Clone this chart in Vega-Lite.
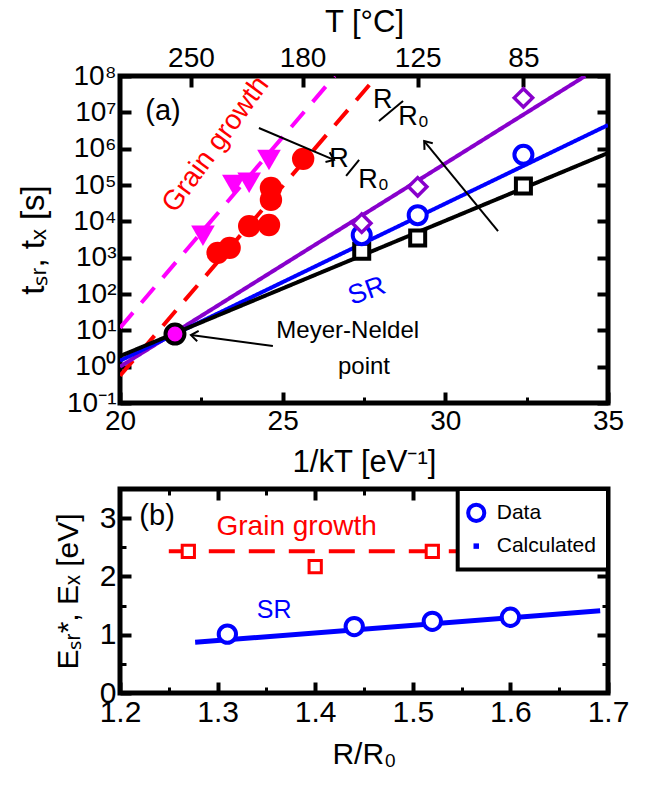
{
  "$schema": "https://vega.github.io/schema/vega-lite/v6.json",
  "background": "white",
  "padding": {"left": 15, "top": 3, "right": 5, "bottom": 5},
  "config": {
    "font": "Liberation Sans",
    "view": {"stroke": "black", "strokeWidth": 5},
    "axis": {
      "domain": false, "grid": false,
      "tickColor": "black", "tickWidth": 4, "tickSize": -11,
      "labelColor": "black", "titleColor": "black",
      "labelFont": "Liberation Sans", "titleFont": "Liberation Sans",
      "labelFontSize": 28, "titleFontSize": 31, "titleFontWeight": "normal",
      "labelPadding": 15, "labelFlush": false, "labelOverlap": false
    },
    "concat": {"spacing": 4}
  },
  "datasets": {
    "fits_a": [
      {"series": "grain_tri", "x": 20, "t": 11.7}, {"series": "grain_tri", "x": 26.6, "t": 100000000},
      {"series": "grain_circ", "x": 20, "t": 0.56}, {"series": "grain_circ", "x": 27.9, "t": 100000000},
      {"series": "sr_diamond", "x": 20, "t": 1.0}, {"series": "sr_diamond", "x": 34.3, "t": 100000000},
      {"series": "sr_circle", "x": 20, "t": 1.46}, {"series": "sr_circle", "x": 35, "t": 4470000},
      {"series": "sr_square", "x": 20, "t": 1.95}, {"series": "sr_square", "x": 35, "t": 760000}
    ],
    "sq_a": [{"x": 27.43, "t": 1510}, {"x": 29.15, "t": 3470}, {"x": 32.40, "t": 93300}],
    "circ_a": [{"x": 27.43, "t": 4170}, {"x": 29.15, "t": 14800}, {"x": 32.40, "t": 676000}],
    "dia_a": [{"x": 27.43, "t": 8900}, {"x": 29.15, "t": 89000}, {"x": 32.40, "t": 25000000}],
    "gg_circ_a": [
      {"x": 25.63, "t": 525000}, {"x": 24.64, "t": 83000}, {"x": 24.64, "t": 38900},
      {"x": 24.58, "t": 7940}, {"x": 23.97, "t": 7410}, {"x": 23.37, "t": 1860}, {"x": 23.0, "t": 1350}
    ],
    "gg_tri_a": [{"x": 24.58, "t": 490000}, {"x": 23.97, "t": 115000}, {"x": 23.5, "t": 100000}, {"x": 22.55, "t": 3980}],
    "mn_a": [{"x": 21.69, "t": 7.9}],
    "arrows_a": [
      {"arrow": "grain", "x": 24.27, "t": 3700000, "x2": 26.58, "t2": 490000},
      {"arrow": "sr", "x": 31.62, "t": 5370, "x2": 29.35, "t2": 1620000},
      {"arrow": "mn", "x": 24.7, "t": 3.7, "x2": 22.18, "t2": 7.4}
    ],
    "slashes_a": [
      {"x": 26.95, "t": 178000, "x2": 27.35, "t2": 490000},
      {"x": 27.96, "t": 5750000, "x2": 28.70, "t2": 20400000}
    ],
    "r_top_a": [{"x": 26.73, "t": 520000, "label": "R"}, {"x": 28.08, "t": 21900000, "label": "R"}],
    "r_bot_a": [{"x": 27.32, "t": 138000, "label": "R₀"}, {"x": 28.55, "t": 7400000, "label": "R₀"}],
    "panel_a": [{"x": 21.32, "t": 11000000, "label": "(a)"}],
    "gg_label_a": [{"x": 22.95, "t": 1300000, "label": "Grain growth"}],
    "sr_label_a": [{"x": 27.59, "t": 120, "label": "SR"}],
    "mn_label_a": [{"x": 27.0, "t": 9.5, "label": "Meyer-Neldel"}, {"x": 27.5, "t": 1.0, "label": "point"}],
    "sr_fit_b": [{"r": 1.277, "e": 0.87}, {"r": 1.692, "e": 1.41}],
    "gg_fit_b": [{"r": 1.25, "e": 2.43}, {"r": 1.55, "e": 2.43}],
    "sr_b": [{"r": 1.31, "e": 1.01}, {"r": 1.44, "e": 1.14}, {"r": 1.52, "e": 1.23}, {"r": 1.60, "e": 1.30}],
    "gg_b": [{"r": 1.27, "e": 2.43}, {"r": 1.40, "e": 2.17}, {"r": 1.52, "e": 2.43}],
    "legend_box_b": [{"r": 1.546, "e": 2.12, "r2": 1.7, "e2": 3.5}],
    "legend_data_b": [{"r": 1.565, "e": 3.09}],
    "legend_calc_b": [{"r": 1.565, "e": 2.52}],
    "legend_text_b": [{"r": 1.586, "e": 3.09, "label": "Data"}, {"r": 1.586, "e": 2.52, "label": "Calculated"}],
    "panel_b": [{"r": 1.238, "e": 3.03, "label": "(b)"}],
    "gg_label_b": [{"r": 1.381, "e": 2.85, "label": "Grain growth"}],
    "sr_label_b": [{"r": 1.358, "e": 1.42, "label": "SR"}]
  },
  "vconcat": [
    {
      "width": 488,
      "height": 327,
      "resolve": {"axis": {"x": "independent", "y": "independent"}},
      "layer": [
        {
          "data": {"name": "fits_a"},
          "mark": {"type": "line", "clip": true},
          "encoding": {
            "x": {"field": "x", "type": "quantitative", "scale": {"domain": [20, 35], "nice": false, "zero": false},
                  "axis": {"orient": "bottom", "values": [20, 25, 30, 35], "title": "1/kT [eV⁻¹]", "titlePadding": 12}},
            "y": {"field": "t", "type": "quantitative", "scale": {"type": "log", "domain": [0.1, 100000000], "nice": false},
                  "axis": {"orient": "left", "values": [0.1, 1, 10, 100, 1000, 10000, 100000, 1000000, 10000000, 100000000],
                           "labelExpr": "'10' + ['⁻¹','⁰','¹','²','³','⁴','⁵','⁶','⁷','⁸'][round(log(datum.value)/LN10) + 1]",
                           "title": "tₛᵣ, tₓ [s]", "titlePadding": 16, "titleFontSize": 33}},
            "color": {"field": "series", "type": "nominal", "legend": null,
                      "scale": {"domain": ["grain_tri", "grain_circ", "sr_diamond", "sr_circle", "sr_square"],
                                "range": ["#ff00ff", "#ff0000", "#8800cc", "#0000ff", "#000000"]}},
            "strokeDash": {"field": "series", "type": "nominal", "legend": null,
                           "scale": {"domain": ["grain_tri", "grain_circ", "sr_diamond", "sr_circle", "sr_square"],
                                     "range": [[20, 13], [20, 13], [1, 0], [1, 0], [1, 0]]}},
            "strokeWidth": {"field": "series", "type": "nominal", "legend": null,
                            "scale": {"domain": ["grain_tri", "grain_circ", "sr_diamond", "sr_circle", "sr_square"],
                                      "range": [4, 4, 3, 4, 4]}}
          }
        },
        {
          "data": {"name": "sq_a"},
          "mark": {"type": "point", "shape": "square", "filled": true, "fill": "white", "stroke": "black", "strokeWidth": 4, "size": 225, "opacity": 1},
          "encoding": {
            "x": {"field": "x", "type": "quantitative",
                  "axis": {"orient": "bottom", "values": [22.5, 27.5, 32.5], "labels": false, "title": null, "tickSize": -6, "tickWidth": 3}},
            "y": {"field": "t", "type": "quantitative",
                  "axis": {"orient": "right", "values": [0.1, 1, 10, 100, 1000, 10000, 100000, 1000000, 10000000, 100000000], "labels": false, "title": null}}
          }
        },
        {
          "data": {"name": "circ_a"},
          "mark": {"type": "point", "shape": "circle", "filled": true, "fill": "white", "stroke": "#0000ff", "strokeWidth": 4, "size": 324, "opacity": 1},
          "encoding": {
            "x": {"field": "x", "type": "quantitative",
                  "axis": {"orient": "top", "values": [22.18, 25.61, 29.15, 32.40],
                           "labelExpr": "datum.value < 23 ? '250' : datum.value < 27 ? '180' : datum.value < 30 ? '125' : '85'",
                           "title": "T [°C]", "titlePadding": 6}},
            "y": {"field": "t", "type": "quantitative", "axis": null}
          }
        },
        {
          "data": {"name": "dia_a"},
          "mark": {"type": "point", "shape": "diamond", "filled": true, "fill": "white", "stroke": "#8800cc", "strokeWidth": 3.5, "size": 340, "opacity": 1},
          "encoding": {
            "x": {"field": "x", "type": "quantitative", "axis": null},
            "y": {"field": "t", "type": "quantitative", "axis": null}
          }
        },
        {
          "data": {"name": "gg_circ_a"},
          "mark": {"type": "point", "shape": "circle", "filled": true, "color": "#ff0000", "size": 500, "opacity": 1},
          "encoding": {
            "x": {"field": "x", "type": "quantitative", "axis": null},
            "y": {"field": "t", "type": "quantitative", "axis": null}
          }
        },
        {
          "data": {"name": "gg_tri_a"},
          "mark": {"type": "point", "shape": "triangle-down", "filled": true, "color": "#ff00ff", "size": 560, "opacity": 1},
          "encoding": {
            "x": {"field": "x", "type": "quantitative", "axis": null},
            "y": {"field": "t", "type": "quantitative", "axis": null}
          }
        },
        {
          "data": {"name": "mn_a"},
          "mark": {"type": "point", "shape": "circle", "filled": true, "fill": "#ff00ff", "stroke": "black", "strokeWidth": 4, "size": 360, "opacity": 1},
          "encoding": {
            "x": {"field": "x", "type": "quantitative", "axis": null},
            "y": {"field": "t", "type": "quantitative", "axis": null}
          }
        },
        {
          "data": {"name": "arrows_a"},
          "mark": {"type": "rule", "color": "black", "strokeWidth": 2},
          "encoding": {
            "x": {"field": "x", "type": "quantitative", "axis": null},
            "y": {"field": "t", "type": "quantitative", "axis": null},
            "x2": {"field": "x2"},
            "y2": {"field": "t2"}
          }
        },
        {
          "data": {"name": "arrows_a"},
          "transform": [{"filter": "datum.arrow == 'grain'"}],
          "mark": {"type": "point", "shape": "M-1,-0.75L0,0L-1,0.75", "filled": false, "stroke": "black", "strokeWidth": 2, "size": 200, "angle": 23, "opacity": 1},
          "encoding": {
            "x": {"field": "x2", "type": "quantitative", "axis": null},
            "y": {"field": "t2", "type": "quantitative", "axis": null}
          }
        },
        {
          "data": {"name": "arrows_a"},
          "transform": [{"filter": "datum.arrow == 'sr'"}],
          "mark": {"type": "point", "shape": "M-1,-0.75L0,0L-1,0.75", "filled": false, "stroke": "black", "strokeWidth": 2, "size": 200, "angle": -129, "opacity": 1},
          "encoding": {
            "x": {"field": "x2", "type": "quantitative", "axis": null},
            "y": {"field": "t2", "type": "quantitative", "axis": null}
          }
        },
        {
          "data": {"name": "arrows_a"},
          "transform": [{"filter": "datum.arrow == 'mn'"}],
          "mark": {"type": "point", "shape": "M-1,-0.75L0,0L-1,0.75", "filled": false, "stroke": "black", "strokeWidth": 2, "size": 200, "angle": 188, "opacity": 1},
          "encoding": {
            "x": {"field": "x2", "type": "quantitative", "axis": null},
            "y": {"field": "t2", "type": "quantitative", "axis": null}
          }
        },
        {
          "data": {"name": "slashes_a"},
          "mark": {"type": "rule", "color": "black", "strokeWidth": 2},
          "encoding": {
            "x": {"field": "x", "type": "quantitative", "axis": null},
            "y": {"field": "t", "type": "quantitative", "axis": null},
            "x2": {"field": "x2"},
            "y2": {"field": "t2"}
          }
        },
        {
          "data": {"name": "r_top_a"},
          "mark": {"type": "text", "fontSize": 27, "color": "black", "align": "center", "baseline": "middle"},
          "encoding": {
            "x": {"field": "x", "type": "quantitative", "axis": null},
            "y": {"field": "t", "type": "quantitative", "axis": null},
            "text": {"field": "label"}
          }
        },
        {
          "data": {"name": "r_bot_a"},
          "mark": {"type": "text", "fontSize": 27, "color": "black", "align": "left", "baseline": "middle"},
          "encoding": {
            "x": {"field": "x", "type": "quantitative", "axis": null},
            "y": {"field": "t", "type": "quantitative", "axis": null},
            "text": {"field": "label"}
          }
        },
        {
          "data": {"name": "panel_a"},
          "mark": {"type": "text", "fontSize": 29, "color": "black", "align": "center", "baseline": "middle"},
          "encoding": {
            "x": {"field": "x", "type": "quantitative", "axis": null},
            "y": {"field": "t", "type": "quantitative", "axis": null},
            "text": {"field": "label"}
          }
        },
        {
          "data": {"name": "gg_label_a"},
          "mark": {"type": "text", "fontSize": 28, "color": "#ff0000", "align": "center", "baseline": "middle", "angle": -54},
          "encoding": {
            "x": {"field": "x", "type": "quantitative", "axis": null},
            "y": {"field": "t", "type": "quantitative", "axis": null},
            "text": {"field": "label"}
          }
        },
        {
          "data": {"name": "sr_label_a"},
          "mark": {"type": "text", "fontSize": 27, "color": "#0000ff", "align": "center", "baseline": "middle", "angle": -20},
          "encoding": {
            "x": {"field": "x", "type": "quantitative", "axis": null},
            "y": {"field": "t", "type": "quantitative", "axis": null},
            "text": {"field": "label"}
          }
        },
        {
          "data": {"name": "mn_label_a"},
          "mark": {"type": "text", "fontSize": 24, "color": "black", "align": "center", "baseline": "middle"},
          "encoding": {
            "x": {"field": "x", "type": "quantitative", "axis": null},
            "y": {"field": "t", "type": "quantitative", "axis": null},
            "text": {"field": "label"}
          }
        }
      ]
    },
    {
      "width": 488,
      "height": 204,
      "resolve": {"axis": {"x": "independent", "y": "independent"}},
      "layer": [
        {
          "data": {"name": "sr_fit_b"},
          "mark": {"type": "line", "color": "#0000ff", "strokeWidth": 5},
          "encoding": {
            "x": {"field": "r", "type": "quantitative", "scale": {"domain": [1.2, 1.7], "nice": false, "zero": false},
                  "axis": {"orient": "bottom", "values": [1.2, 1.3, 1.4, 1.5, 1.6, 1.7], "format": ".1f", "title": "R/R₀", "titlePadding": 12, "labelFontSize": 30, "titleFontSize": 30}},
            "y": {"field": "e", "type": "quantitative", "scale": {"domain": [0, 3.5], "nice": false, "zero": false},
                  "axis": {"orient": "left", "values": [0, 1, 2, 3], "title": "Eₛᵣ*, Eₓ [eV]", "titlePadding": 16, "labelFontSize": 30, "titleFontSize": 30}}
          }
        },
        {
          "data": {"name": "gg_fit_b"},
          "mark": {"type": "line", "color": "#ff0000", "strokeWidth": 4, "strokeDash": [26, 14]},
          "encoding": {
            "x": {"field": "r", "type": "quantitative",
                  "axis": {"orient": "bottom", "values": [1.25, 1.35, 1.45, 1.55, 1.65], "labels": false, "title": null, "tickSize": -6, "tickWidth": 3}},
            "y": {"field": "e", "type": "quantitative",
                  "axis": {"orient": "left", "values": [0.5, 1.5, 2.5], "labels": false, "title": null, "tickSize": -6, "tickWidth": 3}}
          }
        },
        {
          "data": {"name": "sr_b"},
          "mark": {"type": "point", "shape": "circle", "filled": true, "fill": "white", "stroke": "#0000ff", "strokeWidth": 4, "size": 300, "opacity": 1},
          "encoding": {
            "x": {"field": "r", "type": "quantitative",
                  "axis": {"orient": "top", "values": [1.3, 1.4, 1.5, 1.6], "labels": false, "title": null}},
            "y": {"field": "e", "type": "quantitative",
                  "axis": {"orient": "right", "values": [1, 2, 3], "labels": false, "title": null}}
          }
        },
        {
          "data": {"name": "gg_b"},
          "mark": {"type": "point", "shape": "square", "filled": true, "fill": "white", "stroke": "#ff0000", "strokeWidth": 3, "size": 150, "opacity": 1},
          "encoding": {
            "x": {"field": "r", "type": "quantitative",
                  "axis": {"orient": "top", "values": [1.25, 1.35, 1.45, 1.55, 1.65], "labels": false, "title": null, "tickSize": -6, "tickWidth": 3}},
            "y": {"field": "e", "type": "quantitative",
                  "axis": {"orient": "right", "values": [0.5, 1.5, 2.5], "labels": false, "title": null, "tickSize": -6, "tickWidth": 3}}
          }
        },
        {
          "data": {"name": "legend_box_b"},
          "mark": {"type": "rect", "fill": "white", "stroke": "black", "strokeWidth": 4},
          "encoding": {
            "x": {"field": "r", "type": "quantitative", "axis": null},
            "y": {"field": "e", "type": "quantitative", "axis": null},
            "x2": {"field": "r2"},
            "y2": {"field": "e2"}
          }
        },
        {
          "data": {"name": "legend_data_b"},
          "mark": {"type": "point", "shape": "circle", "filled": true, "fill": "white", "stroke": "#0000ff", "strokeWidth": 4, "size": 260, "opacity": 1},
          "encoding": {
            "x": {"field": "r", "type": "quantitative", "axis": null},
            "y": {"field": "e", "type": "quantitative", "axis": null}
          }
        },
        {
          "data": {"name": "legend_calc_b"},
          "mark": {"type": "point", "shape": "square", "filled": true, "color": "#0000ff", "size": 30, "opacity": 1},
          "encoding": {
            "x": {"field": "r", "type": "quantitative", "axis": null},
            "y": {"field": "e", "type": "quantitative", "axis": null}
          }
        },
        {
          "data": {"name": "legend_text_b"},
          "mark": {"type": "text", "fontSize": 21, "color": "black", "align": "left", "baseline": "middle"},
          "encoding": {
            "x": {"field": "r", "type": "quantitative", "axis": null},
            "y": {"field": "e", "type": "quantitative", "axis": null},
            "text": {"field": "label"}
          }
        },
        {
          "data": {"name": "panel_b"},
          "mark": {"type": "text", "fontSize": 29, "color": "black", "align": "center", "baseline": "middle"},
          "encoding": {
            "x": {"field": "r", "type": "quantitative", "axis": null},
            "y": {"field": "e", "type": "quantitative", "axis": null},
            "text": {"field": "label"}
          }
        },
        {
          "data": {"name": "gg_label_b"},
          "mark": {"type": "text", "fontSize": 28, "color": "#ff0000", "align": "center", "baseline": "middle"},
          "encoding": {
            "x": {"field": "r", "type": "quantitative", "axis": null},
            "y": {"field": "e", "type": "quantitative", "axis": null},
            "text": {"field": "label"}
          }
        },
        {
          "data": {"name": "sr_label_b"},
          "mark": {"type": "text", "fontSize": 25, "color": "#0000ff", "align": "center", "baseline": "middle"},
          "encoding": {
            "x": {"field": "r", "type": "quantitative", "axis": null},
            "y": {"field": "e", "type": "quantitative", "axis": null},
            "text": {"field": "label"}
          }
        }
      ]
    }
  ]
}
